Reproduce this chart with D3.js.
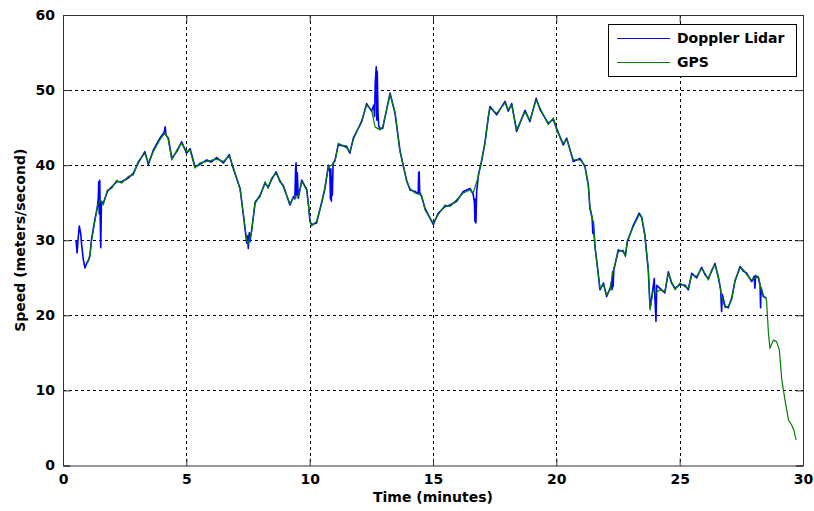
<!DOCTYPE html>
<html><head><meta charset="utf-8">
<script src="https://cdn.jsdelivr.net/npm/d3@7"></script>
<style>html,body{margin:0;padding:0;background:#fff;}svg{display:block;}</style>
</head><body>
<svg id="chart" width="814" height="511"></svg>
<script>
const xTicks = [0,5,10,15,20,25,30];
const yTicks = [0,10,20,30,40,50,60];
const seriesNames = ["Doppler Lidar","GPS"];
const xLabel = "Time (minutes)";
const yLabel = "Speed (meters/second)";

const gpsT = [1.00,1.09,1.16,1.30,1.39,1.50,1.63,1.80,1.97,2.18,2.38,2.65,2.85,3.05,3.32,3.46,3.66,3.93,4.14,4.27,4.41,4.61,4.81,5.01,5.15,5.35,5.55,5.83,6.23,6.50,6.74,6.88,7.18,7.31,7.45,7.51,7.65,7.79,7.99,8.19,8.32,8.46,8.64,8.80,8.93,9.20,9.34,9.54,9.68,9.88,9.97,10.01,10.08,10.28,10.49,10.62,10.76,10.89,11.03,11.16,11.50,11.63,11.77,12.11,12.31,12.51,12.65,12.85,12.96,13.26,13.46,13.66,13.80,13.93,14.07,14.27,14.54,14.68,15.01,15.21,15.49,15.69,15.96,16.23,16.50,16.63,16.84,16.97,17.11,17.24,17.31,17.58,17.92,18.05,18.19,18.39,18.73,18.93,19.18,19.34,19.67,19.88,20.01,20.28,20.42,20.69,20.96,21.16,21.30,21.36,21.50,21.57,21.66,21.77,21.91,22.04,22.18,22.28,22.51,22.71,22.80,22.88,23.12,23.36,23.46,23.59,23.73,23.80,23.93,24.04,24.20,24.40,24.54,24.67,24.81,25.01,25.22,25.35,25.49,25.69,25.89,26.03,26.16,26.30,26.43,26.57,26.70,26.84,26.97,27.11,27.24,27.45,27.58,27.72,27.92,28.05,28.19,28.30,28.39,28.52,28.60,28.66,28.80,28.93,29.04,29.14,29.27,29.41,29.54,29.63,29.72];
const gpsV = [27.0,27.8,30.0,32.7,34.5,35.3,34.7,36.7,36.9,38.0,37.6,38.5,38.7,40.5,41.6,40.3,41.8,43.4,44.3,43.4,40.7,42.0,42.9,41.8,42.0,39.6,40.3,40.5,40.8,40.5,41.2,40.0,36.7,33.6,30.0,29.5,31.2,35.2,35.8,37.8,36.9,38.3,38.9,38.0,37.1,34.9,35.6,35.8,37.8,36.9,34.0,32.7,31.9,32.5,34.9,37.1,39.8,40.0,40.5,42.9,42.3,41.8,43.4,46.0,48.0,47.4,45.1,44.7,45.1,49.4,47.1,41.8,40.0,37.8,36.9,36.3,36.0,34.0,32.3,33.4,34.7,34.5,35.4,36.3,36.7,36.3,38.5,40.7,42.9,46.5,47.6,46.9,48.3,47.4,48.0,44.7,47.1,46.0,48.7,47.6,45.4,46.3,44.7,42.9,43.4,40.7,40.7,40.0,37.1,34.5,32.3,29.2,26.5,23.6,24.1,22.7,23.4,25.6,28.5,28.7,27.8,30.0,31.8,33.4,33.2,30.5,26.1,20.7,23.4,23.0,23.4,23.2,25.6,24.5,23.4,24.3,23.8,23.6,25.4,25.2,26.2,25.6,24.7,26.1,26.7,25.2,22.5,21.0,21.2,22.1,24.7,26.3,26.1,25.4,24.7,25.0,25.2,23.5,22.7,22.1,17.6,15.6,16.7,16.5,15.4,11.4,8.7,6.1,5.4,4.7,3.4];

const lidarT = [0.53,0.57,0.62,0.66,0.72,0.75,0.82,0.89,0.97,1.04,1.09,1.16,1.30,1.39,1.43,1.45,1.47,1.49,1.51,1.53,1.56,1.63,1.80,1.97,2.18,2.38,2.65,2.85,3.05,3.32,3.46,3.66,3.93,4.10,4.14,4.18,4.27,4.41,4.61,4.81,5.01,5.15,5.35,5.55,5.83,6.00,6.23,6.50,6.74,6.88,7.18,7.31,7.45,7.49,7.51,7.55,7.58,7.65,7.79,7.99,8.19,8.32,8.46,8.64,8.80,8.93,9.20,9.34,9.40,9.43,9.45,9.47,9.50,9.54,9.68,9.88,9.97,10.01,10.08,10.28,10.49,10.62,10.76,10.82,10.84,10.86,10.88,10.90,10.92,10.95,11.03,11.16,11.50,11.63,11.77,12.11,12.31,12.51,12.60,12.63,12.66,12.70,12.72,12.74,12.77,12.80,12.85,12.96,13.26,13.46,13.66,13.80,13.93,14.07,14.27,14.40,14.42,14.44,14.46,14.54,14.68,15.01,15.21,15.49,15.69,15.96,16.23,16.50,16.63,16.68,16.70,16.72,16.74,16.77,16.84,16.97,17.11,17.24,17.31,17.58,17.92,18.05,18.19,18.39,18.73,18.93,19.18,19.34,19.67,19.88,20.01,20.28,20.42,20.69,20.96,21.16,21.30,21.36,21.45,21.48,21.50,21.57,21.66,21.77,21.91,22.04,22.18,22.24,22.26,22.28,22.30,22.33,22.51,22.71,22.80,22.88,23.12,23.36,23.46,23.59,23.73,23.80,23.90,23.97,24.00,24.04,24.07,24.20,24.40,24.54,24.67,24.81,25.01,25.22,25.35,25.49,25.69,25.89,26.03,26.16,26.30,26.43,26.57,26.66,26.70,26.73,26.84,26.97,27.11,27.24,27.45,27.58,27.72,27.92,28.02,28.05,28.08,28.19,28.26,28.28,28.30,28.39,28.52];
const lidarV = [30.0,28.3,30.5,31.9,30.8,29.6,27.5,26.3,27.0,27.4,28.0,30.2,32.9,34.3,35.5,37.8,33.5,38.0,33.0,29.0,35.2,34.9,36.5,37.1,37.8,37.8,38.3,38.9,40.3,41.8,40.1,42.0,43.6,44.4,45.1,44.0,43.6,40.9,41.8,43.1,41.6,42.2,39.8,40.1,40.7,40.4,41.0,40.3,41.4,39.8,36.9,33.4,29.6,30.6,28.9,31.0,29.8,31.4,35.0,36.0,37.6,37.1,38.1,39.1,37.8,37.3,34.7,35.8,35.5,39.5,40.3,36.0,39.0,35.6,38.0,36.7,34.2,32.5,32.1,32.3,35.1,36.9,40.0,39.0,35.5,39.5,35.2,38.5,36.0,40.2,40.7,42.7,42.5,41.6,43.6,45.8,48.2,47.2,48.0,46.5,51.0,53.1,46.0,52.5,47.0,45.2,44.9,44.9,49.6,46.9,42.0,39.8,38.0,36.7,36.5,36.2,39.0,39.1,36.4,35.8,34.2,32.1,33.6,34.5,34.7,35.2,36.5,36.9,36.1,35.0,32.5,35.5,32.3,36.5,38.7,40.5,43.1,46.3,47.8,46.7,48.5,47.2,48.2,44.5,47.3,45.8,48.9,47.4,45.6,46.1,44.9,42.7,43.6,40.5,40.9,39.8,37.3,34.3,33.0,30.9,32.5,29.0,26.7,23.4,24.3,22.5,23.6,24.5,23.4,25.8,23.8,26.0,28.7,28.5,28.0,29.8,32.0,33.6,33.0,30.7,25.9,21.0,23.2,24.9,22.0,19.2,24.0,23.6,23.0,25.8,24.3,23.6,24.1,24.0,23.4,25.6,25.0,26.4,25.4,24.9,25.9,26.9,25.0,23.5,20.5,22.8,21.2,21.0,22.3,24.5,26.5,25.9,25.6,24.5,25.2,23.6,25.3,25.0,24.0,21.0,23.7,22.5,22.3];

const gps = gpsT.map((t,i)=>({t, v:gpsV[i]}));
const lidar = lidarT.map((t,i)=>({t, v:lidarV[i]}));

const svg = d3.select("#chart");
const L = 63, R = 803, T = 15, B = 465.5;
const x = d3.scaleLinear().domain([0,30]).range([L,R]);
const y = d3.scaleLinear().domain([0,60]).range([B,T]);
const font = "'DejaVu Sans', sans-serif";
const px = v => Math.round(v)+0.5;

// grid
const g = svg.append("g");
g.selectAll(".vg").data(xTicks.filter(d=>d>0&&d<30)).enter().append("line")
  .attr("x1",d=>px(x(d))).attr("x2",d=>px(x(d))).attr("y1",T).attr("y2",B)
  .attr("stroke","#000").attr("stroke-width",1).attr("stroke-dasharray","3,3");
g.selectAll(".hg").data(yTicks.filter(d=>d>0&&d<60)).enter().append("line")
  .attr("y1",d=>px(y(d))).attr("y2",d=>px(y(d))).attr("x1",L).attr("x2",R)
  .attr("stroke","#000").attr("stroke-width",1).attr("stroke-dasharray","3,3");

// lines
const line = d3.line().x(d=>x(d.t)).y(d=>y(d.v));
svg.append("path").datum(lidar).attr("d",line).attr("fill","none")
  .attr("stroke","#0000ff").attr("stroke-width",1.6).attr("stroke-linejoin","round");
svg.append("path").datum(gps).attr("d",line).attr("fill","none")
  .attr("stroke","#008000").attr("stroke-width",1.2).attr("stroke-linejoin","round");

// axes
const xAxisB = d3.axisBottom(x).tickValues(xTicks).tickSize(-7).tickPadding(9);
const yAxisL = d3.axisLeft(y).tickValues(yTicks).tickSize(-7).tickPadding(8);
const xAxisT = d3.axisTop(x).tickValues(xTicks).tickSize(-7).tickFormat("");
const yAxisR = d3.axisRight(y).tickValues(yTicks).tickSize(-7).tickFormat("");
function styleAxis(sel){
  sel.selectAll("path").attr("stroke","#333");
  sel.selectAll("line").attr("stroke","#333");
  sel.selectAll("text").attr("font-family",font).attr("font-size",14)
     .attr("font-weight","bold").attr("fill","#000");
}
svg.append("g").attr("transform",`translate(0,${B})`).call(xAxisB).call(styleAxis);
svg.append("g").attr("transform",`translate(${L},0)`).call(yAxisL).call(styleAxis);
svg.append("g").attr("transform",`translate(0,${T})`).call(xAxisT).call(styleAxis);
svg.append("g").attr("transform",`translate(${R},0)`).call(yAxisR).call(styleAxis);
svg.selectAll(".domain").attr("stroke","#333");

// axis labels
svg.append("text").attr("x",(L+R)/2).attr("y",502).attr("text-anchor","middle")
  .attr("font-family",font).attr("font-size",14).attr("font-weight","bold").text(xLabel);
svg.append("text").attr("transform",`translate(25,${(T+B)/2}) rotate(-90)`)
  .attr("text-anchor","middle").attr("font-family",font).attr("font-size",14)
  .attr("font-weight","bold").text(yLabel);

// legend
const lg = svg.append("g");
lg.append("rect").attr("x",608.5).attr("y",24.5).attr("width",188).attr("height",52)
  .attr("fill","#fff").attr("stroke","#000").attr("stroke-width",1);
const colors = ["#0000ff","#008000"];
seriesNames.forEach((n,i)=>{
  const yy = 38 + i*24;
  lg.append("line").attr("x1",617).attr("x2",670).attr("y1",yy+0.5).attr("y2",yy+0.5)
    .attr("stroke",colors[i]).attr("stroke-width",1);
  lg.append("text").attr("x",677).attr("y",yy+5).attr("font-family",font)
    .attr("font-size",14).attr("font-weight","bold").attr("fill","#000").text(n);
});
</script>
</body></html>
